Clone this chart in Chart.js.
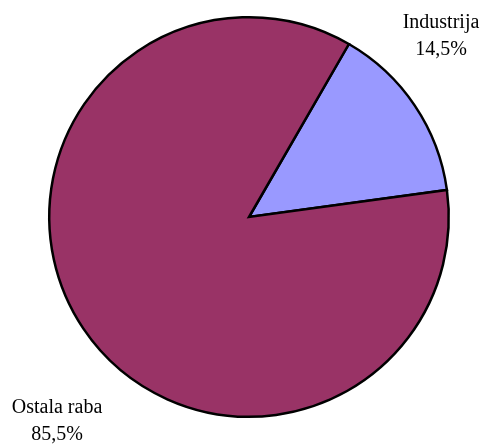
<!DOCTYPE html>
<html>
<head>
<meta charset="utf-8">
<script src="https://cdn.jsdelivr.net/npm/chart.js@4"></script>
<style>
  html, body { margin: 0; padding: 0; background: #ffffff; }
  #wrap { width: 484px; height: 444px; }
</style>
</head>
<body>
<div id="wrap"><canvas id="pie" width="484" height="444"></canvas></div>
<script>
const categories = ['Industrija', 'Ostala raba'];
const shares = [14.5, 85.5];
const sliceColors = ['#9999FF', '#993366'];

// label offsets (px) from the pie centre, one per slice
const labelOffsets = [[192, -194], [-192, 191]];

const pieLabels = {
  id: 'pieLabels',
  afterDraw(chart) {
    const ctx = chart.ctx;
    const meta = chart.getDatasetMeta(0);
    ctx.save();
    ctx.font = '20px "Liberation Serif", "Times New Roman", serif';
    ctx.fillStyle = '#000000';
    ctx.textAlign = 'center';
    ctx.textBaseline = 'middle';
    meta.data.forEach((arc, i) => {
      const x = arc.x + labelOffsets[i][0];
      const y = arc.y + labelOffsets[i][1];
      const pct = shares[i].toFixed(1).replace('.', ',') + '%';
      ctx.fillText(categories[i], x, y);
      ctx.fillText(pct, x, y + 27);
    });
    ctx.restore();
  }
};

new Chart(document.getElementById('pie').getContext('2d'), {
  type: 'pie',
  data: {
    labels: categories,
    datasets: [{
      data: shares,
      backgroundColor: sliceColors,
      borderColor: '#000000',
      borderWidth: 2.5,
      borderJoinStyle: 'miter'
    }]
  },
  options: {
    responsive: false,
    animation: false,
    rotation: 30,
    layout: { padding: { left: 48, right: 34, top: 16, bottom: 26 } },
    plugins: {
      legend: { display: false },
      tooltip: { enabled: false }
    }
  },
  plugins: [pieLabels]
});
</script>
</body>
</html>
